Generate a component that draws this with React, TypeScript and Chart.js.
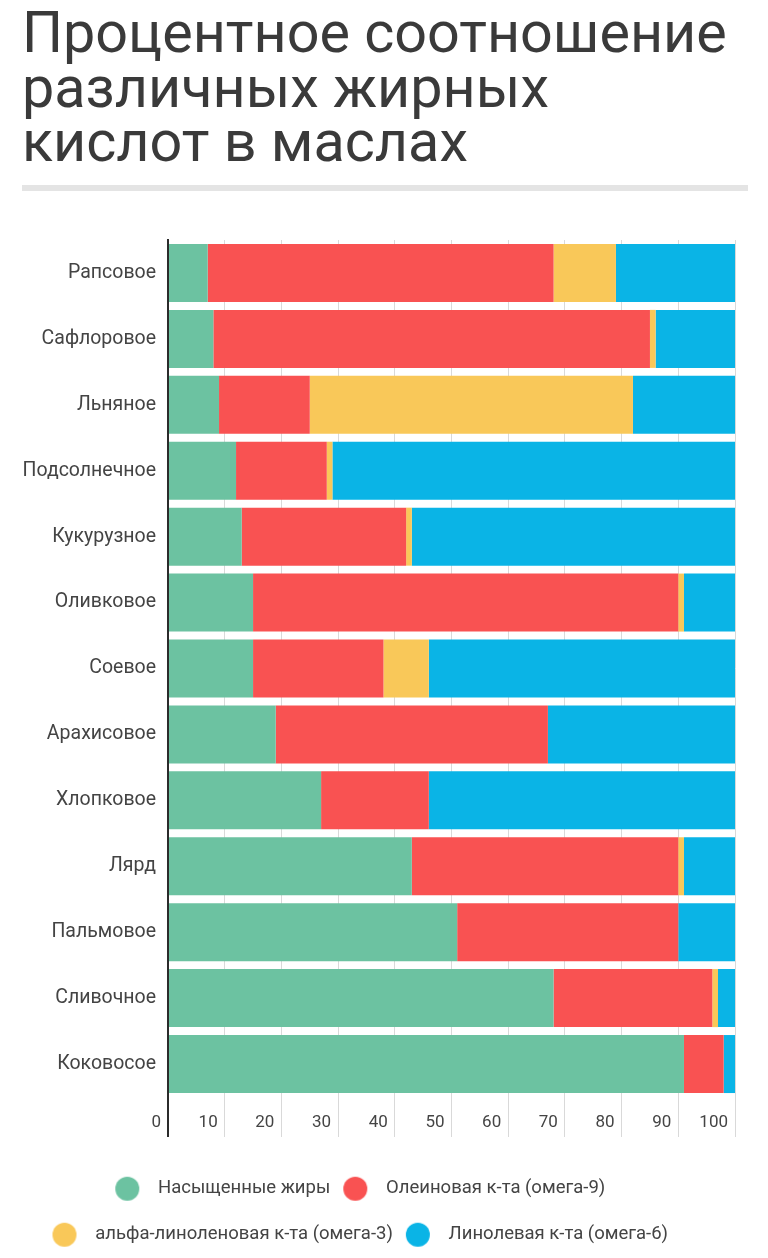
import React, { useEffect, useRef } from "react";
import { Chart, registerables } from "chart.js";

Chart.register(...registerables);

const categories = [
  "Рапсовое",
  "Сафлоровое",
  "Льняное",
  "Подсолнечное",
  "Кукурузное",
  "Оливковое",
  "Соевое",
  "Арахисовое",
  "Хлопковое",
  "Лярд",
  "Пальмовое",
  "Сливочное",
  "Коковосое",
];

const seriesNames = [
  "Насыщенные жиры",
  "Олеиновая к-та (омега-9)",
  "альфа-линоленовая к-та (омега-3)",
  "Линолевая к-та (омега-6)",
];

const saturated = [7, 8, 9, 12, 13, 15, 15, 19, 27, 43, 51, 68, 91];
const oleic = [61, 77, 16, 16, 29, 75, 23, 48, 19, 47, 39, 28, 7];
const alphaLinolenic = [11, 1, 57, 1, 1, 1, 8, 0, 0, 1, 0, 1, 0];
const linoleic = [21, 14, 18, 71, 57, 9, 54, 33, 54, 9, 10, 3, 2];

const seriesColors = ["#6cc2a1", "#f95252", "#f9c859", "#0ab4e6"];

const xTicks = [0, 10, 20, 30, 40, 50, 60, 70, 80, 90, 100];

const titleLines = ["Процентное соотношение", "различных жирных", "кислот в маслах"];

function makeDot(color: string): HTMLCanvasElement {
  const c = document.createElement("canvas");
  c.width = 50;
  c.height = 26;
  const ctx = c.getContext("2d")!;
  ctx.fillStyle = color;
  ctx.beginPath();
  ctx.arc(13, 13, 12, 0, Math.PI * 2);
  ctx.fill();
  return c;
}

export default function App() {
  const canvasRef = useRef<HTMLCanvasElement | null>(null);

  useEffect(() => {
    if (!canvasRef.current) return;
    Chart.defaults.font.family = "Roboto";
    const dots = seriesColors.map(makeDot);
    const values = [saturated, oleic, alphaLinolenic, linoleic];
    const chart = new Chart(canvasRef.current, {
      type: "bar",
      data: {
        labels: categories,
        datasets: values.map((v, i) => ({
          label: seriesNames[i],
          data: v,
          backgroundColor: seriesColors[i],
          borderWidth: 0,
          barPercentage: 0.88,
          categoryPercentage: 1,
        })),
      },
      options: {
        indexAxis: "y",
        responsive: false,
        animation: false,
        devicePixelRatio: 1,
        layout: { padding: { top: 40, right: 33, left: 0, bottom: 4 } },
        scales: {
          x: {
            stacked: true,
            min: 0,
            max: 100,
            afterBuildTicks: (s: any) => {
              s.ticks = xTicks.map((v) => ({ value: v }));
            },
            afterFit: (s: any) => {
              s.height = 55;
            },
            border: { display: false },
            grid: {
              color: (c: any) => (c.tick && c.tick.value === 0 ? "#2b2b2b" : "#d9d9d9"),
              lineWidth: (c: any) => (c.tick && c.tick.value === 0 ? 2 : 1),
              drawTicks: true,
              tickLength: 40,
              tickColor: (c: any) => (c.tick && c.tick.value === 0 ? "#2b2b2b" : "#d9d9d9"),
            },
            ticks: {
              autoSkip: false,
              align: "end",
              labelOffset: -7,
              padding: -24,
              maxRotation: 0,
              color: "#444",
              font: { size: 17, family: "Roboto" },
            },
          },
          y: {
            stacked: true,
            afterFit: (s: any) => {
              s.width = 168;
            },
            border: { display: true, color: "#2b2b2b", width: 2 },
            grid: { display: false, drawTicks: false },
            ticks: {
              padding: 12,
              color: "#444",
              font: { size: 19.5, family: "Roboto" },
            },
          },
        },
        plugins: {
          tooltip: { enabled: false },
          legend: {
            position: "bottom",
            labels: {
              usePointStyle: true,
              pointStyleWidth: 19,
              padding: 27.5,
              color: "#444",
              font: { size: 18.5, family: "Roboto" },
              generateLabels: (ch: any) => {
                const items = (Chart.defaults.plugins.legend.labels as any).generateLabels(ch);
                return items.map((it: any, i: number) => ({ ...it, pointStyle: dots[i] }));
              },
            },
          },
        },
      },
    } as any);
    return () => chart.destroy();
  }, []);

  return (
    <div
      style={{
        position: "absolute",
        left: 0,
        top: 0,
        width: 768,
        height: 1258,
        background: "#fff",
        overflow: "hidden",
      }}
    >
      <div
        style={{
          position: "absolute",
          left: 22,
          top: 6,
          fontFamily: "Roboto",
          fontSize: 57.5,
          lineHeight: "54.5px",
          color: "#3a3a3a",
          whiteSpace: "nowrap",
        }}
      >
        {titleLines.map((l, i) => (
          <div key={i}>{l}</div>
        ))}
      </div>
      <div
        style={{
          position: "absolute",
          left: 22,
          top: 185,
          width: 726,
          height: 6,
          background: "#e4e4e4",
        }}
      />
      <canvas
        ref={canvasRef}
        width={768}
        height={1058}
        style={{ position: "absolute", left: 0, top: 200, width: 768, height: 1058 }}
      />
    </div>
  );
}
